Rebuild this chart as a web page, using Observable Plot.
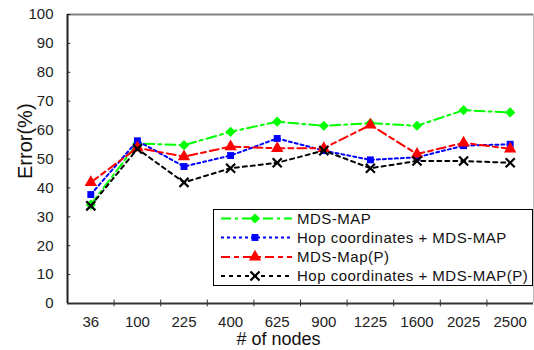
<!DOCTYPE html>
<html><head><meta charset="utf-8">
<script src="https://cdn.jsdelivr.net/npm/d3@7"></script>
<script src="https://cdn.jsdelivr.net/npm/@observablehq/plot@0.6"></script>
<style>
body{margin:0;background:#fff;}
#chart svg{font-family:"Liberation Sans",Arial,sans-serif;}
</style>
</head><body><div id="chart"></div>
<script>
const nodes = ["36","100","225","400","625","900","1225","1600","2025","2500"];
const mdsMap     = [34.2, 55.4, 54.8, 59.4, 62.9, 61.5, 62.4, 61.5, 66.9, 66.1];
const hopMdsMap  = [37.7, 56.3, 47.4, 51.2, 57.1, 52.9, 49.7, 50.6, 54.6, 55.1];
const mdsMapP    = [41.9, 53.9, 50.8, 54.3, 53.7, 53.7, 61.8, 51.7, 55.6, 53.5];
const hopMdsMapP = [33.8, 53.5, 41.9, 46.8, 48.7, 52.9, 46.8, 49.3, 49.3, 48.7];
const yTicks = [0,10,20,30,40,50,60,70,80,90,100];
const seriesNames = ["MDS-MAP","Hop coordinates + MDS-MAP","MDS-Map(P)","Hop coordinates + MDS-MAP(P)"];
const seriesColors = ["#00ff00","#0000ff","#ff0000","#000000"];
const seriesSymbols = ["diamond2","square","triangle","times"];
const seriesDash = ["10,4,3,4","3,3","9,4,5,4","4,4"];
const seriesValues = [mdsMap, hopMdsMap, mdsMapP, hopMdsMapP];

const rows = seriesValues.map((vals, s) => vals.map((v, i) => ({i: i + 0.5, node: nodes[i], value: v, s})));

const seriesMarks = rows.flatMap((data, s) => {
  const sym = seriesSymbols[s];
  const dot = sym === "times"
    ? Plot.dot(data, {x: "i", y: "value", symbol: sym, r: 4.2, stroke: seriesColors[s], strokeWidth: 2.2})
    : Plot.dot(data, {x: "i", y: "value", symbol: sym, r: sym === "square" ? 3.9 : 4.6, fill: seriesColors[s], stroke: "none"});
  return [
    Plot.line(data, {x: "i", y: "value", stroke: seriesColors[s], strokeWidth: 2, strokeDasharray: seriesDash[s]}),
    dot
  ];
});

const W = 534, H = 350;
const chart = Plot.plot({
  width: W, height: H,
  marginLeft: 67, marginRight: 1, marginTop: 14, marginBottom: 47,
  x: {type: "linear", domain: [0, nodes.length], axis: null},
  y: {domain: [0, 100], axis: null},
  style: {background: "#fff", color: "#222", fontSize: "15px", fontFamily: "'Liberation Sans', Arial, sans-serif"},
  marks: [
    Plot.ruleY([100], {stroke: "#808080", strokeWidth: 2}),
    Plot.ruleX([nodes.length], {stroke: "#c0c0c0", strokeWidth: 1}),
    Plot.ruleY(yTicks, {x1: 0, x2: 0.07, stroke: "#222", strokeWidth: 1}),
    Plot.ruleX(d3.range(1, nodes.length), {y1: -1.2, y2: 1.2, stroke: "#333", strokeWidth: 1}),
    Plot.axisY({ticks: yTicks, tickSize: 0, tickPadding: 14, fontSize: 15, label: null, ariaLabel: "yticks"}),
    Plot.axisX({ticks: nodes.map((d, i) => i + 0.5), tickFormat: v => nodes[Math.round(v - 0.5)], tickSize: 0, tickPadding: 13, fontSize: 15, label: null, ariaLabel: "xticks"}),
    ...seriesMarks,
    Plot.ruleX([0], {stroke: "#222", strokeWidth: 2}),
    Plot.ruleY([0], {stroke: "#333", strokeWidth: 2}),
    Plot.text(["# of nodes"], {frameAnchor: "bottom", dx: -22, dy: 41, fontSize: 18, fill: "#111", ariaLabel: "xlabel"}),
    Plot.text(["Error(%)"], {frameAnchor: "left", rotate: -90, dx: -42, dy: 20, fontSize: 20, fill: "#111", ariaLabel: "ylabel"})
  ]
});
document.getElementById("chart").appendChild(chart);

const svg = d3.select(chart);
svg.selectAll('g[aria-label="xticks"] text').style("letter-spacing", "1px");
svg.selectAll('g[aria-label="ylabel"] text').style("letter-spacing", "3.5px");
svg.selectAll('g[aria-label="xlabel"] text').style("letter-spacing", "1px");

// legend
const lg = svg.append("g").attr("class", "legend");
lg.append("rect").attr("x", 213.5).attr("y", 209.5).attr("width", 319).attr("height", 76)
  .attr("fill", "#fff").attr("stroke", "#000").attr("stroke-width", 1);
const symMap = {diamond2: d3.symbolDiamond2, square: d3.symbolSquare, triangle: d3.symbolTriangle, times: d3.symbolTimes};
const rowY = [218.5, 237.5, 257, 276];
seriesNames.forEach((name, s) => {
  const y = rowY[s];
  lg.append("line").attr("x1", 221).attr("x2", 292).attr("y1", y).attr("y2", y)
    .attr("stroke", seriesColors[s]).attr("stroke-width", 2).attr("stroke-dasharray", seriesDash[s]);
  const sym = seriesSymbols[s];
  const r = sym === "times" ? 4.2 : (sym === "square" ? 3.9 : 4.6);
  const p = lg.append("path").attr("transform", `translate(255,${y})`)
    .attr("d", d3.symbol(symMap[sym], r * r * Math.PI)());
  if (sym === "times") p.attr("fill", "none").attr("stroke", seriesColors[s]).attr("stroke-width", 2.2);
  else p.attr("fill", seriesColors[s]);
  lg.append("text").attr("x", 297).attr("y", y).attr("dy", "0.35em").attr("text-anchor", "start")
    .attr("font-size", 15).attr("fill", "#111").style("letter-spacing", "0.5px").text(name);
});
</script>
</body></html>
